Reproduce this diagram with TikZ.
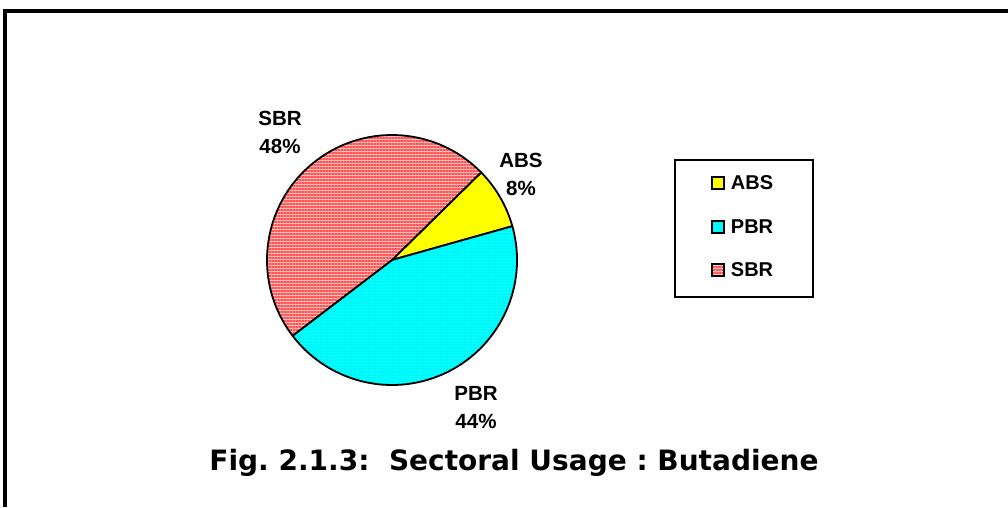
\documentclass[tikz,border=0pt]{standalone}
\usepackage{fontspec}
\setmainfont{Liberation Sans}
\newfontfamily\captionfont{DejaVu Sans}
\usetikzlibrary{positioning,patterns.meta}
\definecolor{absyellow}{RGB}{255,255,0}
\definecolor{pbrcyan}{RGB}{0,255,255}
\definecolor{pbrdot}{RGB}{0,205,220}
\definecolor{sbrlight}{RGB}{255,190,190}
\definecolor{sbrred}{RGB}{255,85,85}
\begin{document}
\begin{tikzpicture}
[x=1pt,y=1pt,
  absfill/.style={fill=absyellow},
  pbrfill/.style={preaction={fill=pbrcyan},pattern={Dots[distance=3pt,radius=0.55pt]},pattern color=pbrdot},
  sbrfill/.style={preaction={fill=sbrlight},pattern={Lines[angle=0,distance=3pt,line width=1.5pt]},pattern color=sbrred},
  slicedecorate/.style={draw,line width=1.8pt,line join=round},
  labeldecorate/.style={align=center,inner sep=0pt,font=\bfseries\fontsize{20.5}{28}\selectfont},
  swatchdecorate/.style={draw,line width=1.5pt,minimum size=12pt,inner sep=0pt},
  legenddecorate/.style={inner sep=0pt,font=\bfseries\fontsize{20}{23}\selectfont}]
\useasboundingbox (0,0) rectangle (1008,507);
% frame
\draw[line width=4pt] (1008,496) -- (4.5,496) -- (4.5,0);
% pie slices
\coordinate (c) at (392,247);
\path[absfill,slicedecorate] (c) -- ++(44.5:125) arc[start angle=44.5,end angle=15.7,radius=125] -- cycle;
\path[pbrfill,slicedecorate] (c) -- ++(15.7:125) arc[start angle=15.7,end angle=-142.7,radius=125] -- cycle;
\path[sbrfill,slicedecorate] (c) -- ++(217.3:125) arc[start angle=217.3,end angle=44.5,radius=125] -- cycle;
% slice labels
\node (sbrlabel) at (280,375) [labeldecorate] {SBR\\48\%};
\node (abslabel) at (521,333) [labeldecorate] {ABS\\8\%};
\node (pbrlabel) at (476,99) [labeldecorate] {PBR\\44\%};
% legend
\node (legend) at (744,278.5) [draw,line width=1.5pt,minimum width=138pt,minimum height=137pt] {};
\node (absbox) at (718,324) [swatchdecorate,absfill] {};
\node (abstext) [legenddecorate,right=6pt of absbox] {ABS};
\node (pbrbox) at (718,280) [swatchdecorate,pbrfill] {};
\node (pbrtext) [legenddecorate,right=6pt of pbrbox] {PBR};
\node (sbrbox) at (718,237) [swatchdecorate,sbrfill] {};
\node (sbrtext) [legenddecorate,right=6pt of sbrbox] {SBR};
% caption
\node (caption) at (514,44) [font=\captionfont\bfseries\frenchspacing\fontsize{28}{34}\selectfont] {Fig. 2.1.3:\ \ Sectoral Usage : Butadiene};
\end{tikzpicture}
\end{document}
